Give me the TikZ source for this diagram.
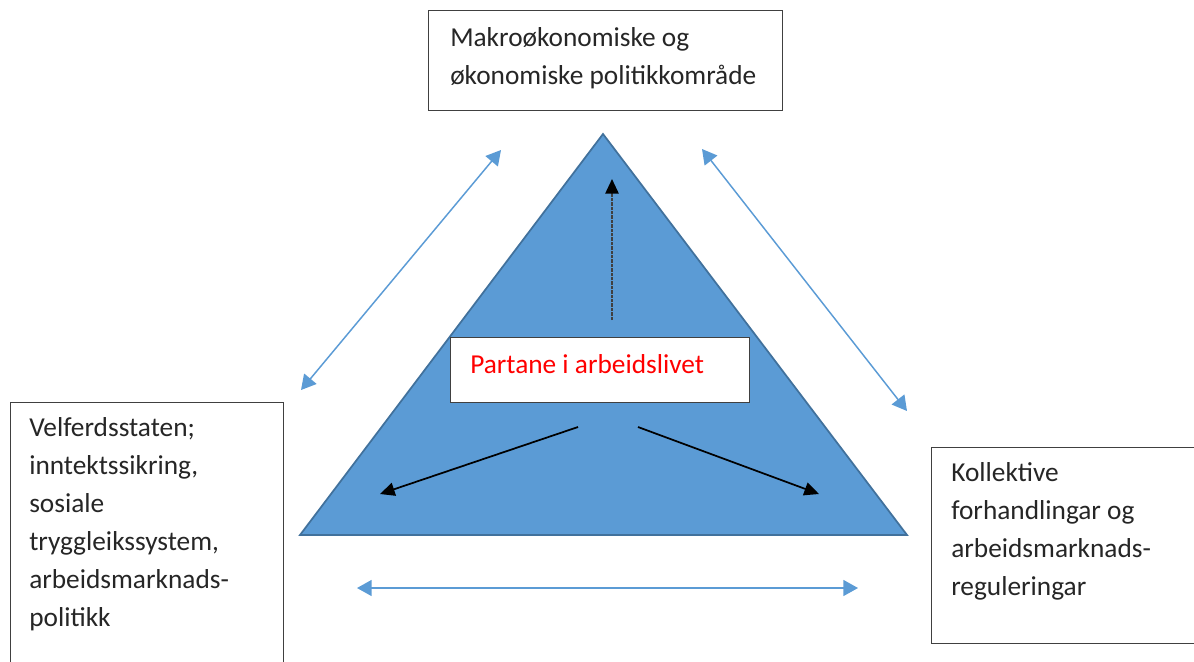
\documentclass[tikz,border=0pt]{standalone}
\usepackage{fontspec}
\setmainfont{Carlito}
\usetikzlibrary{arrows.meta,calc}
\definecolor{triblue}{HTML}{5B9BD5}
\definecolor{triedge}{HTML}{41719C}
\definecolor{boxline}{HTML}{404040}
\definecolor{partred}{HTML}{FF0000}
\begin{document}
\begin{tikzpicture}[x=0.75pt,y=-0.75pt,
  box/.style={draw=boxline,line width=1.1pt,fill=white,inner sep=0pt,anchor=north west},
  boxtext/.style={anchor=north west,align=left,inner sep=0pt,font=\fontsize{20.5}{28.5}\selectfont,text=black!85},
  link/.style={triblue,line width=1.1pt,{Triangle[length=11pt,width=12pt]}-{Triangle[length=11pt,width=12pt]}},
  flow/.style={black,line width=1.3pt,-{Triangle[length=11pt,width=10pt,color=black]}}]
\useasboundingbox (0,0) rectangle (1194,661);

% central triangle
\coordinate (apex) at (603,134);
\coordinate (bl) at (300,535);
\coordinate (br) at (907,535);
\fill[triblue] (apex) -- (bl) -- (br) -- cycle;
\draw[triedge,line width=1.3pt,line join=miter] (apex) -- (bl) -- (br) -- cycle;

% outer boxes
\node[box,minimum width=265.5pt,minimum height=75pt] (macro) at (428,10) {};
\node[boxtext] (macrotxt) at (450,27) {Makroøkonomiske og\\økonomiske politikkområde};

\node[box,minimum width=204.75pt,minimum height=210pt] (welfare) at (10,402) {};
\node[boxtext] (welfaretxt) at (29,417) {Velferdsstaten;\\inntektssikring,\\sosiale\\tryggleikssystem,\\arbeidsmarknads-\\politikk};

\node[box,minimum width=225pt,minimum height=147pt] (coll) at (931,447) {};
\node[boxtext] (colltxt) at (951,462) {Kollektive\\forhandlingar og\\arbeidsmarknads-\\reguleringar};

% parties box inside the triangle
\node[box,minimum width=224.25pt,minimum height=48.75pt] (parts) at (450,337) {};
\node[boxtext,text=partred] (partstxt) at (470,354) {Partane i arbeidslivet};

% arrows from the parties
\coordinate (upfrom) at (612,320);
\coordinate (upto) at (612,179);
\draw[flow,draw=black!75,dash pattern=on 2.5pt off 0.8pt] (upfrom) -- (upto);
\coordinate (lfrom) at (578,427);
\coordinate (lto) at (380,494);
\draw[flow] (lfrom) -- (lto);
\coordinate (rfrom) at (638,427);
\coordinate (rto) at (819,494);
\draw[flow] (rfrom) -- (rto);

% two-way links between the policy areas
\coordinate (la) at (501,150);
\coordinate (lb) at (301,390);
\draw[link] (la) -- (lb);
\coordinate (ra) at (702,149);
\coordinate (rb) at (907,411);
\draw[link] (ra) -- (rb);
\coordinate (ba) at (357,588);
\coordinate (bb) at (858,588);
\draw[link] (ba) -- (bb);
\end{tikzpicture}
\end{document}
